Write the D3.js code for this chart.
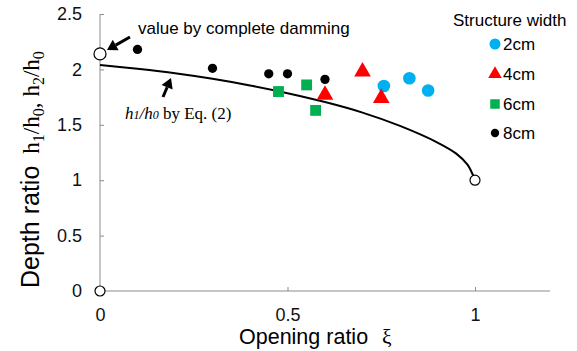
<!DOCTYPE html>
<html>
<head>
<meta charset="utf-8">
<script src="https://cdn.jsdelivr.net/npm/d3@7"></script>
<style>
  html, body { margin: 0; padding: 0; background: #fff; }
  svg { display: block; }
  .axis path, .axis line { stroke: #8c8c8c; }
  .axis text { font-family: Arial, "Liberation Sans", sans-serif; font-size: 18px; fill: #111; }
</style>
</head>
<body>
<svg id="chart" width="577" height="351"></svg>
<script>
// Measured depth ratios by structure width (opening ratio ξ, depth ratio)
const width2X = [0.757, 0.825, 0.875];
const width2Y = [1.85, 1.92, 1.81];
const width4X = [0.60, 0.70, 0.75];
const width4Y = [1.77, 1.98, 1.74];
const width6X = [0.476, 0.551, 0.575];
const width6Y = [1.80, 1.86, 1.63];
const width8X = [0.10, 0.30, 0.45, 0.50, 0.60];
const width8Y = [2.18, 2.01, 1.96, 1.96, 1.91];

// h1/h0 from Eq. (2)
const eqX = [0, 0.1, 0.2, 0.3, 0.4, 0.5, 0.6, 0.7, 0.8, 0.9, 0.95, 0.98, 1.0];
const eqY = [2.04, 2.005, 1.965, 1.915, 1.855, 1.785, 1.705, 1.61, 1.49, 1.34, 1.24, 1.14, 1.0];

// Reference values (open circles): complete damming, full opening, origin
const refX = [0, 1, 0];
const refY = [2.14, 1, 0];

const xTicks = [0, 0.5, 1];
const yTicks = [0, 0.5, 1, 1.5, 2, 2.5];
const legendLabels = ["2cm", "4cm", "6cm", "8cm"];

const sans = "Arial, 'Liberation Sans', sans-serif";
const serif = "'Times New Roman', 'Liberation Serif', serif";

const svg = d3.select("#chart");
const x = d3.scaleLinear().domain([0, 1.2]).range([100, 550]);
const y = d3.scaleLinear().domain([0, 2.5]).range([291, 14]);

// Axes with inward ticks
const gx = svg.append("g").attr("class", "axis").attr("transform", `translate(0,${y(0)})`)
  .call(d3.axisBottom(x).tickValues(xTicks).tickSizeInner(-4).tickSizeOuter(0).tickPadding(17)
    .tickFormat(d3.format("")));
gx.select(".domain").attr("d", `M${x(0)},0H${x(1.2)}`);

const gy = svg.append("g").attr("class", "axis").attr("transform", `translate(${x(0)},0)`)
  .call(d3.axisLeft(y).tickValues(yTicks).tickSizeInner(-4).tickSizeOuter(0).tickPadding(18)
    .tickFormat(d3.format("")));
gy.select(".domain").attr("d", `M0,${y(0)}V${y(2.5)}`);
gy.selectAll(".tick").filter(d => d === 0).select("line").remove();
gx.selectAll(".tick").filter(d => d === 0).select("line").remove();

// Eq. (2) curve
const eqPts = eqX.map((v, i) => [v, eqY[i]]);
svg.append("path")
  .datum(eqPts)
  .attr("fill", "none").attr("stroke", "#000").attr("stroke-width", 2)
  .attr("d", d3.line().x(d => x(d[0])).y(d => y(d[1])).curve(d3.curveCatmullRom.alpha(0.5)));

// Series markers
const series = [
  { xs: width2X, ys: width2Y, type: d3.symbolCircle, size: 125, color: "#00b0f0" },
  { xs: width4X, ys: width4Y, type: d3.symbolTriangle, size: 120, color: "#ff0000" },
  { xs: width6X, ys: width6Y, type: d3.symbolSquare, size: 118, color: "#00b050" },
  { xs: width8X, ys: width8Y, type: d3.symbolCircle, size: 68, color: "#000000" }
];
series.forEach(s => {
  svg.append("g").selectAll("path")
    .data(s.xs.map((v, i) => [v, s.ys[i]]))
    .join("path")
    .attr("transform", d => `translate(${x(d[0])},${y(d[1])})`)
    .attr("d", d3.symbol().type(s.type).size(s.size))
    .attr("fill", s.color);
});

// Open reference circles
svg.append("g").selectAll("circle")
  .data(refX.map((v, i) => [v, refY[i]]))
  .join("circle")
  .attr("cx", d => x(d[0])).attr("cy", d => y(d[1]))
  .attr("r", d => d[1] > 2 ? 6 : 5)
  .attr("fill", "#fff").attr("stroke", "#000").attr("stroke-width", 1.2);

// Annotation arrows
function arrow(x1, y1, x2, y2) {
  const ang = Math.atan2(y2 - y1, x2 - x1);
  const headLen = 10, headW = 6;
  const bx = x2 - headLen * Math.cos(ang), by = y2 - headLen * Math.sin(ang);
  svg.append("line").attr("x1", x1).attr("y1", y1).attr("x2", bx).attr("y2", by)
    .attr("stroke", "#000").attr("stroke-width", 3);
  const px = -Math.sin(ang) * headW, py = Math.cos(ang) * headW;
  svg.append("path")
    .attr("d", `M${x2},${y2}L${bx + px},${by + py}L${bx - px},${by - py}Z`)
    .attr("fill", "#000");
}
arrow(130, 37, 107, 50);
arrow(163, 97, 171, 78);

svg.append("text")
  .attr("x", 138).attr("y", 34)
  .attr("font-family", sans).attr("font-size", 17)
  .text("value by complete damming");

const eqLabel = svg.append("text")
  .attr("x", 125).attr("y", 119)
  .attr("font-family", serif).attr("font-size", 17);
eqLabel.append("tspan").attr("font-style", "italic").text("h");
eqLabel.append("tspan").attr("font-style", "italic").attr("font-size", 12).text("1");
eqLabel.append("tspan").attr("font-style", "italic").text("/h");
eqLabel.append("tspan").attr("font-style", "italic").attr("font-size", 12).text("0");
eqLabel.append("tspan").text(" by Eq. (2)");

// Axis titles
const xt = svg.append("text")
  .attr("x", 239).attr("y", 344)
  .attr("font-family", sans).attr("font-size", 21.5);
xt.append("tspan").text("Opening ratio");
xt.append("tspan").attr("dx", 14).attr("font-family", serif).text("ξ");

const yt = svg.append("text")
  .attr("transform", "translate(39,288) rotate(-90)")
  .attr("font-family", sans).attr("font-size", 25);
yt.append("tspan").text("Depth ratio");
const hParts = [["h", 0, 12], ["1", 1], ["/h", 0], ["0", 1], [",", 0], ["h", 0, 6], ["2", 1], ["/h", 0], ["0", 1]];
let prevSub = 0;
hParts.forEach(([t, sub, gap]) => {
  const dy = sub && !prevSub ? 5 : (!sub && prevSub ? -5 : 0);
  yt.append("tspan").attr("font-family", serif)
    .attr("font-size", sub ? 16 : 23).attr("dy", dy).attr("dx", gap || 0).text(t);
  prevSub = sub;
});

// Legend
svg.append("text")
  .attr("x", 453).attr("y", 26)
  .attr("font-family", sans).attr("font-size", 17)
  .text("Structure width");
const legendY = [44, 74, 104, 133];
const legendSizes = [95, 80, 90, 55];
const lg = svg.append("g").selectAll("g")
  .data(legendLabels)
  .join("g")
  .attr("transform", (d, i) => `translate(495,${legendY[i]})`);
lg.append("path")
  .attr("d", (d, i) => d3.symbol().type(series[i].type).size(legendSizes[i])())
  .attr("fill", (d, i) => series[i].color);
lg.append("text")
  .attr("x", 8).attr("y", 6)
  .attr("font-family", sans).attr("font-size", 17)
  .text(d => d);
</script>
</body>
</html>
